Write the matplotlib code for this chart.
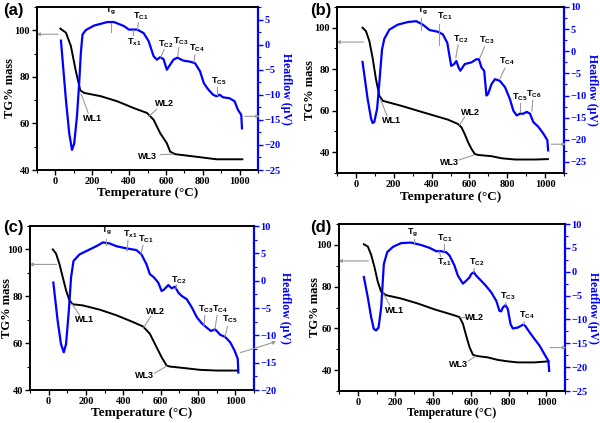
import matplotlib
matplotlib.use("Agg")
import matplotlib.pyplot as plt
from matplotlib.ticker import MultipleLocator

plt.rcParams["mathtext.fontset"] = "custom"
plt.rcParams["mathtext.bf"] = "Liberation Sans:bold"
plt.rcParams["mathtext.rm"] = "Liberation Sans:bold"

# ======================================
# DATA
# ======================================

# (a)
a_tg_T = [27, 57, 84, 111, 135, 156, 246, 336, 425, 497, 533, 569, 605, 623, 650, 785, 875, 1015]
a_tg = [100.7, 99.0, 93.2, 82.4, 74.2, 73.1, 71.7, 69.5, 66.6, 64.5, 61.6, 55.8, 51.5, 47.9, 46.8, 45.5, 44.6, 44.6]
a_hf_T = [30, 57, 75, 90, 102, 117, 129, 138, 147, 165, 210, 282, 318, 372, 399, 444, 479, 506, 533,
          551, 569, 587, 605, 623, 641, 662, 695, 731, 758, 785, 806, 829, 856, 875, 892, 910, 946,
          973, 991, 1009, 1013]
a_hf = [0.8, -11.0, -17.7, -21.0, -19.7, -14.3, -7.7, -1.7, 2.0, 2.9, 3.8, 4.5, 4.5, 3.7, 3.0, 3.0, 2.3, 0.7, -2.3,
        -3.0, -2.5, -2.9, -5.0, -4.0, -3.0, -2.6, -3.2, -3.4, -3.7, -5.3, -7.7, -8.9, -10.0, -10.3, -10.0, -10.5, -10.7,
        -11.3, -13.0, -14.0, -16.7]

# (b)
b_tg_T = [35, 53, 71, 88, 106, 124, 142, 186, 239, 327, 416, 487, 540, 558, 575, 593, 611, 628, 646, 717, 770, 841, 947, 1015]
b_tg = [100.0, 98.4, 93.6, 85.6, 75.2, 67.2, 64.8, 63.7, 62.4, 60.0, 57.6, 55.7, 53.6, 52.0, 48.8, 44.8, 41.6, 39.2,
        38.7, 38.1, 37.1, 36.5, 36.5, 36.7]
b_hf_T = [35, 62, 80, 88, 97, 112, 124, 138, 150, 177, 221, 274, 319, 354, 389, 434, 460, 483, 496, 504,
          519, 531, 543, 552, 575, 611, 637, 650, 664, 678, 690, 699, 717, 735, 761, 788, 814, 832, 850, 867,
          885, 903, 920, 938, 965, 991, 1012, 1016]
b_hf = [-2.4, -10.8, -15.2, -16.2, -16.0, -13.0, -7.0, 0.4, 2.8, 4.9, 6.0, 6.6, 6.8, 6.0, 4.8, 4.4, 3.8, 1.9, -1.4, -3.3,
        -2.9, -2.2, -3.7, -4.4, -2.9, -2.5, -1.8, -1.8, -3.7, -4.4, -10.0, -9.6, -7.4, -6.3, -6.7, -8.1, -10.8, -13.4,
        -14.5, -14.1, -14.1, -13.7, -14.1, -16.0, -17.1, -18.6, -20.1, -22.4]

# (c)
c_tg_T = [22, 39, 57, 75, 93, 111, 129, 183, 273, 363, 452, 506, 542, 578, 605, 632, 650, 722, 811, 901, 1012]
c_tg = [100.0, 98.3, 94.0, 88.3, 82.6, 78.3, 76.6, 76.1, 74.3, 71.9, 69.0, 67.1, 64.0, 58.3, 54.0, 50.4, 50.0,
        49.4, 48.6, 48.3, 48.3]
c_hf_T = [25, 48, 66, 81, 93, 108, 120, 133, 165, 201, 255, 291, 327, 363, 417, 470, 497, 524, 542, 564,
          587, 605, 619, 641, 659, 677, 695, 713, 740, 767, 794, 820, 847, 869, 892, 919, 946, 973, 996, 1013, 1016]
c_hf = [-0.35, -7.3, -11.6, -13.1, -11.6, -5.5, 0.6, 3.6, 4.8, 5.4, 6.3, 7.0, 6.8, 6.3, 5.9, 5.6, 4.8, 3.0, 1.2, 0.6,
        -0.35, -1.9, -1.6, -0.8, -1.4, -1.1, -2.2, -2.8, -3.4, -4.9, -6.7, -7.8, -8.6, -9.2, -8.9, -9.9, -10.3,
        -11.3, -12.8, -14.3, -16.8]

# (d)
d_tg_T = [32, 53, 71, 88, 106, 124, 150, 230, 319, 407, 496, 540, 558, 575, 593, 611, 628, 690, 743, 796, 850, 938, 1012]
d_tg = [100.3, 99.2, 95.2, 89.5, 82.3, 77.5, 75.9, 74.3, 71.9, 69.1, 66.7, 65.4, 62.2, 56.6, 51.0, 47.4, 46.8,
        46.1, 44.9, 44.2, 43.7, 43.7, 44.2]
d_hf_T = [32, 53, 71, 85, 97, 110, 124, 138, 156, 186, 230, 283, 336, 381, 416, 442, 469, 487, 513, 531,
          558, 575, 593, 602, 616, 628, 655, 681, 708, 735, 752, 761, 770, 784, 796, 811, 823, 850, 876, 888,
          912, 938, 965, 991, 1012, 1016]
d_hf = [-1.1, -5.4, -9.6, -12.0, -12.3, -11.7, -7.5, 1.6, 4.1, 5.2, 6.0, 6.1, 5.6, 5.0, 4.3, 4.3, 4.1, 3.4, 1.3, -0.8,
        -2.5, -1.9, -1.2, -0.5, -0.1, -0.8, -1.9, -3.0, -4.3, -6.1, -8.2, -8.3, -7.5, -7.0, -7.8, -11.0, -11.9,
        -11.7, -11.1, -11.3, -12.7, -14.1, -15.5, -17.3, -18.7, -20.8]

panel_names = ["(a)", "(b)", "(c)", "(d)"]

# ======================================
# LAYOUT / STYLE
# ======================================

W, H = 600, 423
BLUE = "#0000ff"
GREY = "#9a9a9a"
SERIF = "Liberation Serif"
SANS = "Liberation Sans"


def rect(l, r, t, b):
    return [l / W, 1 - b / H, (r - l) / W, (b - t) / H]


def tlabel(ax, sub, x, y):
    ax.text(x, y, r"$\mathbf{T}_{\mathbf{%s}}$" % sub, fontsize=6.5, ha="center", va="bottom")


def wl(ax, name, x, y):
    ax.text(x, y, name, fontfamily=SANS, fontweight="bold", fontsize=6.5, ha="center", va="center")


def leader(ax, x0, y0, x1, y1):
    ax.plot([x0, x1], [y0, y1], color=GREY, lw=0.8, clip_on=False)


def arrow(ax, start, tip):
    ax.annotate("", xy=tip, xytext=start, annotation_clip=False,
                arrowprops=dict(arrowstyle="-|>", color=GREY, lw=0.8, mutation_scale=5))


def panel(box, label, label_xy, tg_T, tg, hf_T, hf, tg_lim, hf_lim, hf_ticks,
          yl_off, yr_off, xl_off, xl_size=9.5):
    l, r, t, b = box
    w, h = r - l, b - t
    ax = fig.add_axes(rect(*box))
    ax2 = ax.twinx()
    ax.plot(tg_T, tg, color="black", lw=1.4)
    ax2.plot(hf_T, hf, color=BLUE, lw=1.6)

    ax.set_xlim(-100, 1100)
    ax.set_ylim(*tg_lim)
    ax2.set_ylim(*hf_lim)
    ax.set_xticks([0, 200, 400, 600, 800, 1000])
    ax.xaxis.set_minor_locator(MultipleLocator(100))
    ax.set_yticks([40, 60, 80, 100])
    ax.yaxis.set_minor_locator(MultipleLocator(10))
    ax2.set_yticks(hf_ticks)
    ax2.yaxis.set_minor_locator(MultipleLocator(2.5))

    for a in (ax, ax2):
        for s in a.spines.values():
            s.set_linewidth(1.2)
    ax2.spines["right"].set_color(BLUE)
    ax2.spines["right"].set_linewidth(1.6)

    ax.tick_params(direction="out", length=3.5, width=1, labelsize=7.5, pad=1.5)
    ax.tick_params(which="minor", direction="out", length=2, width=0.8)
    ax2.tick_params(axis="y", colors=BLUE, direction="out", length=3.5, width=1, labelsize=7.5, pad=1.2)
    ax2.tick_params(axis="y", which="minor", colors=BLUE, direction="out", length=2, width=0.8)
    for tk in ax.get_xticklabels() + ax.get_yticklabels() + ax2.get_yticklabels():
        tk.set_fontfamily(SERIF)
        tk.set_fontweight("bold")

    ax.set_xlabel("Temperature (°C)", fontfamily=SERIF, fontweight="bold", fontsize=xl_size, va="center")
    ax.set_ylabel("TG% mass", fontfamily=SERIF, fontweight="bold", fontsize=9, va="center")
    ax2.set_ylabel("Heatflow (μV)", fontfamily=SERIF, fontweight="bold", fontsize=8.5,
                   color=BLUE, rotation=270, va="center")
    ax.xaxis.set_label_coords(0.5, -xl_off / h)
    ax.yaxis.set_label_coords(-yl_off / w, 0.5)
    ax2.yaxis.set_label_coords(1 + yr_off / w, 0.5)

    fig.text(label_xy[0] / W, 1 - label_xy[1] / H, label, fontfamily=SANS, fontweight="bold",
             fontsize=12, va="top", ha="left")
    return ax, ax2


fig = plt.figure(figsize=(6, 4.23), dpi=100)

# ---------------- (a)
ax, ax2 = panel((37, 258, 7, 170), panel_names[0], (3, 3), a_tg_T, a_tg, a_hf_T, a_hf,
                (40, 110), (-25, 7.5), [5, 0, -5, -10, -15, -20, -25], 27, 28, 23)
tlabel(ax2, "g", 300, 5.6); leader(ax2, 300, 4.3, 300, 2.6)
tlabel(ax2, "C1", 462, 4.5); leader(ax2, 450, 4.4, 446, 3.0)
tlabel(ax2, "x1", 428, -0.6); leader(ax2, 420, 1.9, 420, 3.0)
tlabel(ax2, "C2", 598, -1.0); leader(ax2, 590, -1.0, 572, -2.5)
tlabel(ax2, "C3", 680, -0.4); leader(ax2, 670, -0.6, 664, -2.4)
tlabel(ax2, "C4", 768, -1.9); leader(ax2, 758, -2.0, 752, -3.5)
tlabel(ax2, "C5", 888, -8.4); leader(ax2, 880, -8.5, 880, -10.1)
wl(ax, "WL1", 201, 62.3); leader(ax, 178, 64.5, 140, 72.6)
wl(ax, "WL2", 590, 68.5); leader(ax, 550, 66.0, 508, 63.2)
wl(ax, "WL3", 500, 45.6); leader(ax, 570, 46.6, 640, 46.8)
arrow(ax, (30, 98.3), (-118, 98.3))
arrow(ax2, (1013, -14.3), (1125, -14.3))

# ---------------- (b)
ax, ax2 = panel((337, 564, 7, 173), panel_names[1], (310, 3), b_tg_T, b_tg, b_hf_T, b_hf,
                (30, 110), (-27.5, 10), [10, 5, 0, -5, -10, -15, -20, -25], 27, 28, 24)
tlabel(ax2, "g", 354, 7.7); leader(ax2, 345, 7.6, 345, 4.8)
tlabel(ax2, "C1", 470, 6.6); leader(ax2, 437, 6.2, 437, 1.5)
tlabel(ax2, "C2", 552, 1.5); leader(ax2, 540, 1.4, 528, -1.5)
tlabel(ax2, "C3", 692, 1.2); leader(ax2, 680, 1.0, 655, -1.5)
tlabel(ax2, "C4", 800, -3.6); leader(ax2, 788, -3.8, 760, -6.3)
tlabel(ax2, "C5", 868, -11.7); leader(ax2, 865, -11.7, 865, -13.8)
tlabel(ax2, "C6", 940, -10.9); leader(ax2, 935, -11.1, 930, -13.5)
wl(ax, "WL1", 188, 55.2); leader(ax, 165, 57.5, 130, 65.5)
wl(ax, "WL2", 605, 59.3); leader(ax, 575, 57.0, 548, 53.2)
wl(ax, "WL3", 495, 35.2); leader(ax, 545, 36.3, 622, 38.6)
arrow(ax, (55, 93.1), (-118, 93.1))
arrow(ax2, (1018, -21.0), (1125, -21.0))

# ---------------- (c)
ax, ax2 = panel((30, 254, 226, 390), panel_names[2], (3, 220), c_tg_T, c_tg, c_hf_T, c_hf,
                (40, 110), (-20, 10), [10, 5, 0, -5, -10, -15, -20], 22.5, 31, 23)
tlabel(ax2, "g", 310, 7.9); leader(ax2, 305, 7.6, 305, 6.6)
tlabel(ax2, "x1", 436, 7.5); leader(ax2, 425, 7.4, 420, 5.4)
tlabel(ax2, "C1", 518, 6.5); leader(ax2, 505, 6.5, 495, 4.9)
tlabel(ax2, "C2", 698, -0.9); leader(ax2, 685, -0.8, 682, -1.4)
tlabel(ax2, "C3", 840, -6.3); leader(ax2, 836, -6.4, 832, -8.2)
tlabel(ax2, "C4", 918, -6.3); leader(ax2, 902, -6.4, 890, -8.9)
tlabel(ax2, "C5", 970, -8.2); leader(ax2, 958, -8.4, 945, -10.2)
wl(ax, "WL1", 190, 70.0); leader(ax, 165, 72.0, 125, 76.7)
wl(ax, "WL2", 570, 73.7); leader(ax, 548, 71.5, 510, 66.8)
wl(ax, "WL3", 512, 46.1); leader(ax, 568, 47.2, 632, 50.2)
arrow(ax, (57, 93.6), (-118, 93.6))
arrow(ax2, (1013, -13.3), (1233, -11.0))

# ---------------- (d)
ax, ax2 = panel((339, 565, 224, 391), panel_names[3], (310, 220), d_tg_T, d_tg, d_hf_T, d_hf,
                (30, 110), (-25, 10), [10, 5, 0, -5, -10, -15, -20, -25], 24, 28, 22, xl_size=8.5)
tlabel(ax2, "g", 292, 6.9); leader(ax2, 298, 6.8, 298, 6.0)
tlabel(ax2, "C1", 462, 5.9); leader(ax2, 455, 5.8, 455, 4.3)
tlabel(ax2, "x1", 460, 0.7); leader(ax2, 440, 3.2, 432, 4.2)
tlabel(ax2, "C2", 630, 0.8); leader(ax2, 618, 0.7, 616, -0.1)
tlabel(ax2, "C3", 798, -6.4); leader(ax2, 786, -6.5, 782, -7.0)
tlabel(ax2, "C4", 898, -10.4); leader(ax2, 885, -10.5, 880, -11.1)
wl(ax, "WL1", 195, 68.7); leader(ax, 170, 71.0, 135, 76.8)
wl(ax, "WL2", 622, 65.0); leader(ax, 590, 65.0, 545, 65.2)
wl(ax, "WL3", 532, 42.6); leader(ax, 585, 44.3, 625, 46.6)
arrow(ax, (71, 92.3), (-118, 92.3))
arrow(ax2, (1005, -15.9), (1122, -15.9))

fig.savefig("out.png", dpi=100)
